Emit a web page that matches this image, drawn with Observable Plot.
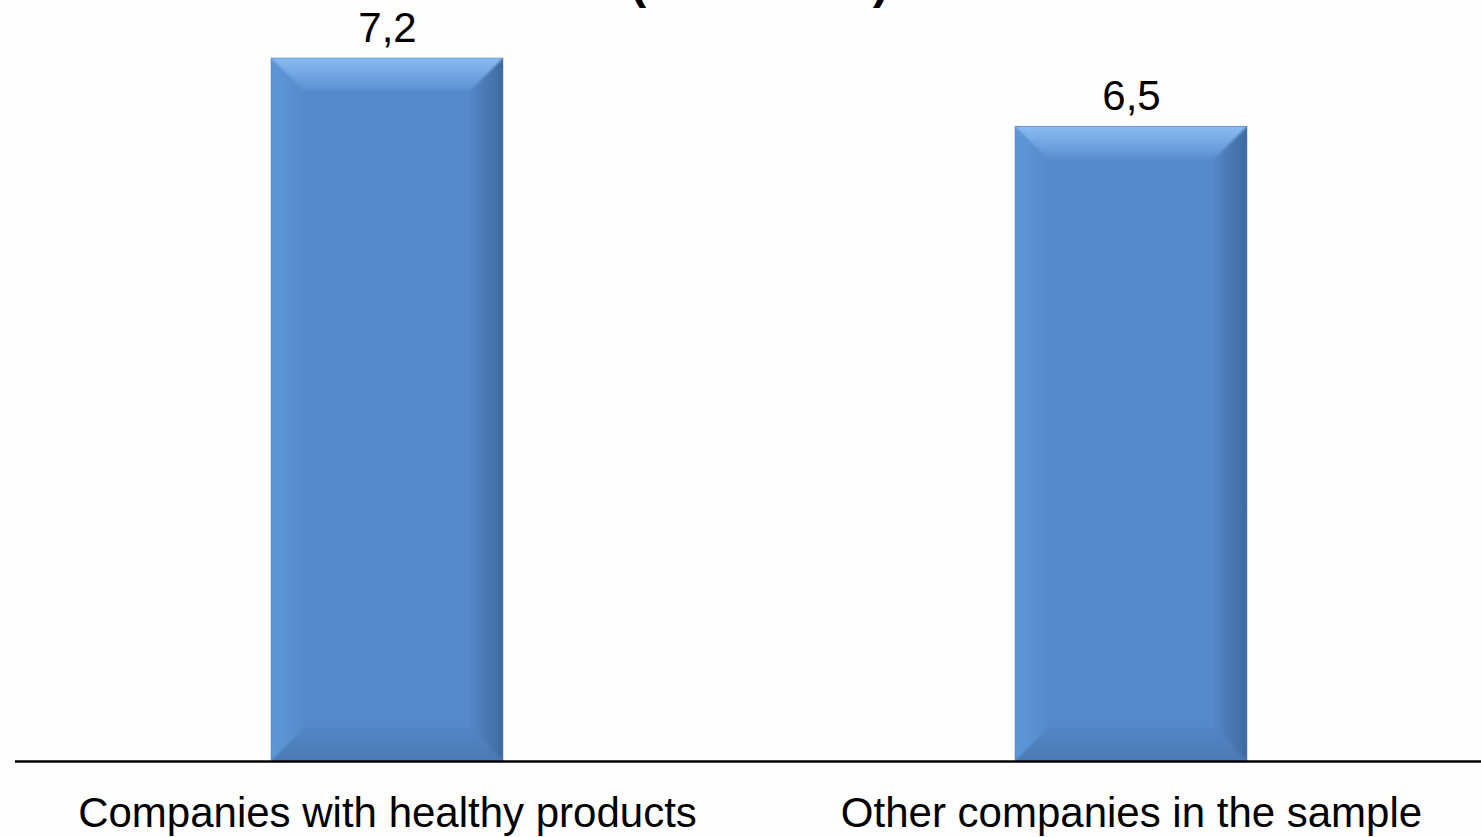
<!DOCTYPE html>
<html>
<head>
<meta charset="utf-8">
<script src="https://cdn.jsdelivr.net/npm/d3@7"></script>
<script src="https://cdn.jsdelivr.net/npm/@observablehq/plot@0.6"></script>
<style>
  html, body { margin: 0; padding: 0; background: #fefefe; }
  svg { display: block; }
</style>
</head>
<body>
<div id="chart"></div>
<script>
// ---- data ----
const categories = ["Companies with healthy products", "Other companies in the sample"];
const values = [7.2, 6.5];
const valueLabels = ["7,2", "6,5"];
const titleText = "(" + "\u00A0".repeat(17) + ")";

const data = categories.map((c, i) => ({category: c, value: values[i], label: valueLabels[i]}));

// bevel drawn through the plot scales
function bevel(index, scales) {
  const ns = "http://www.w3.org/2000/svg";
  const g = document.createElementNS(ns, "g");
  const defs = document.createElementNS(ns, "defs");
  defs.innerHTML = `
    <linearGradient id="bvTop" x1="0" y1="0" x2="0" y2="1">
      <stop offset="0" stop-color="#8fc0f7"/><stop offset="1" stop-color="#5a8fcf"/>
    </linearGradient>
    <linearGradient id="bvBot" x1="0" y1="0" x2="0" y2="1">
      <stop offset="0" stop-color="#5486c6"/><stop offset="1" stop-color="#4a78b2"/>
    </linearGradient>
    <linearGradient id="bvLeft" x1="0" y1="0" x2="1" y2="0">
      <stop offset="0" stop-color="#5e98da"/><stop offset="1" stop-color="#568bcc"/>
    </linearGradient>
    <linearGradient id="bvRight" x1="0" y1="0" x2="1" y2="0">
      <stop offset="0" stop-color="#5487c8"/><stop offset="1" stop-color="#3f689c"/>
    </linearGradient>
    <filter id="bvSoft" x="-5%" y="-5%" width="110%" height="110%"><feGaussianBlur stdDeviation="1.2"/></filter>`;
  g.appendChild(defs);
  const b = 33;
  const bw = scales.x.bandwidth();
  for (const d of data) {
    const x0 = scales.x(d.category), x1 = x0 + bw;
    const yt = scales.y(d.value), yb = scales.y(0);
    const clipId = "clip" + categories.indexOf(d.category);
    const cp = document.createElementNS(ns, "clipPath");
    cp.setAttribute("id", clipId);
    const cr = document.createElementNS(ns, "rect");
    cr.setAttribute("x", x0); cr.setAttribute("y", yt);
    cr.setAttribute("width", bw); cr.setAttribute("height", yb - yt);
    cp.appendChild(cr);
    defs.appendChild(cp);
    const bg = document.createElementNS(ns, "g");
    bg.setAttribute("clip-path", `url(#${clipId})`);
    const inner = document.createElementNS(ns, "g");
    inner.setAttribute("filter", "url(#bvSoft)");
    const polys = [
      [[x0 - 3, yt - 3], [x1 + 3, yt - 3], [x1 - b, yt + b], [x0 + b, yt + b], "url(#bvTop)"],
      [[x0 - 3, yb + 3], [x1 + 3, yb + 3], [x1 - b, yb - b], [x0 + b, yb - b], "url(#bvBot)"],
      [[x0 - 3, yt - 3], [x0 + b, yt + b], [x0 + b, yb - b], [x0 - 3, yb + 3], "url(#bvLeft)"],
      [[x1 + 3, yt - 3], [x1 - b, yt + b], [x1 - b, yb - b], [x1 + 3, yb + 3], "url(#bvRight)"]
    ];
    for (const p of polys) {
      const el = document.createElementNS(ns, "polygon");
      el.setAttribute("points", p.slice(0, 4).map(q => q.join(",")).join(" "));
      el.setAttribute("fill", p[4]);
      inner.appendChild(el);
    }
    bg.appendChild(inner);
    g.appendChild(bg);
    const edge = document.createElementNS(ns, "rect");
    edge.setAttribute("x", x0); edge.setAttribute("y", yt);
    edge.setAttribute("width", bw); edge.setAttribute("height", yb - yt);
    edge.setAttribute("fill", "none");
    edge.setAttribute("stroke", "#4a76ad");
    edge.setAttribute("stroke-opacity", "0.45");
    g.appendChild(edge);
  }
  return g;
}

const chart = Plot.plot({
  width: 1481,
  height: 837,
  marginLeft: 15,
  marginRight: 0,
  marginTop: 58,
  marginBottom: 76,
  style: {fontFamily: "'Liberation Sans', Arial, sans-serif", fontSize: "42px", color: "#000", background: "#fefefe", overflow: "hidden"},
  x: {domain: categories, range: [15, 1503], paddingInner: 0.688, paddingOuter: 0.344, label: null},
  y: {domain: [0, d3.max(values)], axis: null},
  marks: [
    Plot.barY(data, {x: "category", y: "value", fill: "#5589ca"}),
    bevel,
    Plot.ruleY([0], {stroke: "#000", strokeWidth: 2.5}),
    Plot.text(data, {x: "category", y: "value", text: "label", dy: -30, fontSize: 42, fill: "#000"}),
    Plot.axisX({tickSize: 0, tickPadding: 36, fontSize: 42, fill: "#000", label: null}),
    Plot.text([titleText], {frameAnchor: "top", dx: 11, dy: -95, fontSize: 48, fontWeight: "bold", fill: "#000"})
  ]
});
document.getElementById("chart").appendChild(chart);
</script>
</body>
</html>
